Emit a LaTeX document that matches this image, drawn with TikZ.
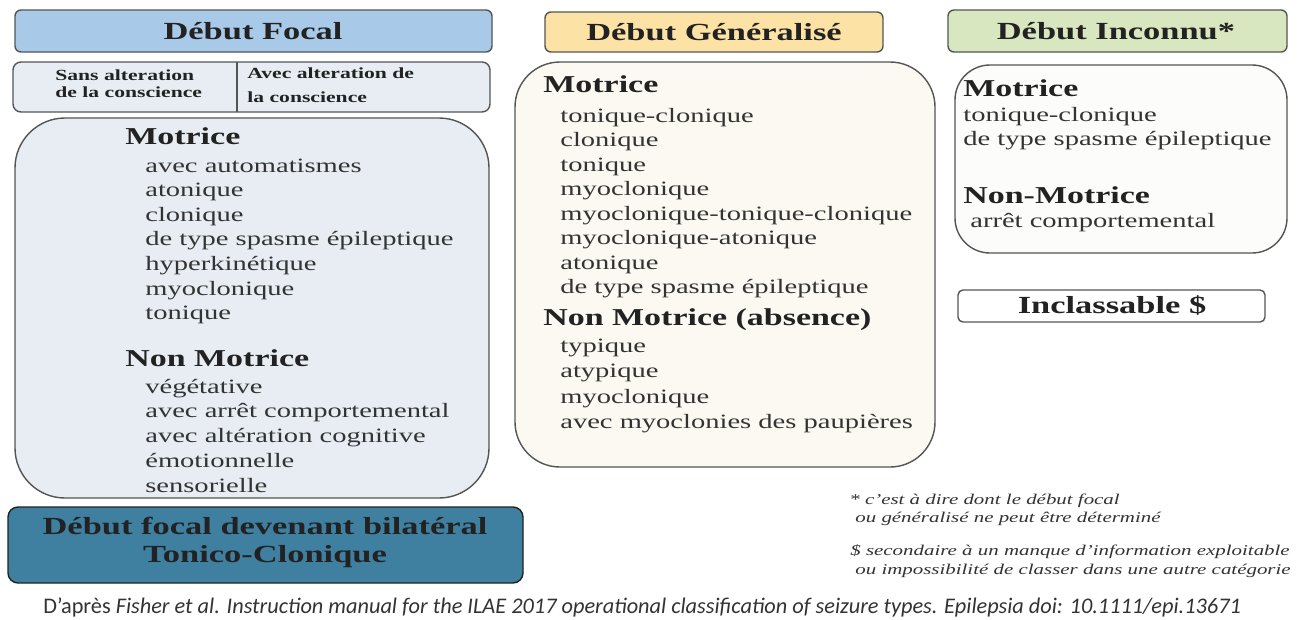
\documentclass[tikz,border=0pt]{standalone}
\usepackage{fontspec}
\setmainfont{Liberation Serif}[FakeStretch=1.4]
\newfontfamily\reffont{Carlito}
\definecolor{boxline}{HTML}{555555}
\definecolor{ink}{HTML}{222222}
\definecolor{ink2}{HTML}{333333}
\definecolor{focalhead}{HTML}{A8C9E7}
\definecolor{focalfill}{HTML}{E7EDF3}
\definecolor{focaldark}{HTML}{3F80A1}
\definecolor{genhead}{HTML}{FDE2A6}
\definecolor{genfill}{HTML}{FBF9F1}
\definecolor{unkhead}{HTML}{D8E7C0}
\definecolor{unkfill}{HTML}{FCFCFA}

\begin{document}
\begin{tikzpicture}[x=0.02cm, y=-0.02cm, line join=round,
    box/.style={draw=boxline, line width=0.8pt},
    head/.style={font=\fontsize{14}{16}\selectfont\bfseries, text=ink},
    sub/.style={font=\fontsize{13.8}{16}\selectfont\bfseries, text=ink, anchor=base west, inner sep=0pt},
    item/.style={font=\fontsize{11.6}{14}\selectfont, text=ink2, anchor=base west, inner sep=0pt},
    tiny/.style={font=\fontsize{8.8}{10}\selectfont\bfseries, text=ink, anchor=base west, inner sep=0pt},
    note/.style={font=\fontsize{8.5}{10}\selectfont\itshape, text=ink2, anchor=base west, inner sep=0pt}]
    \fill[white] (0,0) rectangle (1297,619);
    \useasboundingbox (0,0) rectangle (1297,619);

    % focal onset
    \draw[box, fill=focalhead, rounded corners=0.12cm] (15,10) rectangle (492,52);
    \node[head] (focal) at (253,31) {Début Focal};
    \draw[box, fill=focalfill, rounded corners=0.16cm] (13,62) rectangle (490,112);
    \draw[boxline, line width=0.9pt] (237,62) -- (237,112);
    \node[tiny] (sans1) at (55,80) {Sans alteration};
    \node[tiny] (sans2) at (55,97) {de la conscience};
    \node[tiny] (avec1) at (247,78) {Avec alteration de};
    \node[tiny] (avec2) at (247,102) {la conscience};
    \draw[box, fill=focalfill, rounded corners=1cm] (15,118) rectangle (489,498);
    \node[sub] (fmot) at (125,144) {Motrice};
    \foreach \t [count=\i from 0] in {avec automatismes, atonique, clonique,
        de type spasme épileptique, hyperkinétique, myoclonique, tonique}
        \node[item] (fm\i) at (145,{172+24.6*\i}) {\t};
    \node[sub] (fnon) at (125,366) {Non Motrice};
    \foreach \t [count=\i from 0] in {végétative, avec arrêt comportemental,
        avec altération cognitive, émotionnelle, sensorielle}
        \node[item] (fn\i) at (145,{393+24.75*\i}) {\t};
    \draw[draw=ink, line width=0.8pt, fill=focaldark, rounded corners=0.2cm] (8,507) rectangle (523,583);
    \node[head, anchor=base] (bilat1) at (265,534) {Début focal devenant bilatéral};
    \node[head, anchor=base] (bilat2) at (265,562) {Tonico-Clonique};

    % generalized onset
    \draw[box, fill=genhead, rounded corners=0.12cm] (545,12) rectangle (883,52);
    \node[head] (gen) at (714,32) {Début Généralisé};
    \draw[box, fill=genfill, rounded corners=0.9cm] (515,62) rectangle (935,467);
    \node[sub] (gmot) at (543,92) {Motrice};
    \foreach \t [count=\i from 0] in {tonique-clonique, clonique, tonique, myoclonique,
        myoclonique-tonique-clonique, myoclonique-atonique, atonique, de type spasme épileptique}
        \node[item] (gm\i) at (560,{122+24.5*\i}) {\t};
    \node[sub] (gnon) at (543,325) {Non Motrice (absence)};
    \foreach \t [count=\i from 0] in {typique, atypique, myoclonique, avec myoclonies des paupières}
        \node[item] (gn\i) at (560,{352+25.5*\i}) {\t};

    % unknown onset
    \draw[box, fill=unkhead, rounded corners=0.12cm] (948,10) rectangle (1287,52);
    \node[head] (unk) at (1116,31) {Début Inconnu*};
    \draw[box, fill=unkfill, rounded corners=0.7cm] (955,65) rectangle (1287,253);
    \node[sub] (umot) at (963,96) {Motrice};
    \node[item] (um0) at (963,121) {tonique-clonique};
    \node[item] (um1) at (963,145) {de type spasme épileptique};
    \node[sub] (unon) at (963,203) {Non-Motrice};
    \node[item] (un0) at (970,227) {arrêt comportemental};
    \draw[box, fill=white, rounded corners=0.1cm] (958,290) rectangle (1265,322);
    \node[head] (incl) at (1112,306) {Inclassable \$};

    % notes
    \node[note] (n1) at (849,504) {* c'est à dire dont le début focal};
    \node[note] (n2) at (855,522) {ou généralisé ne peut être déterminé};
    \node[note] (n3) at (850,555) {\$ secondaire à un manque d'information exploitable};
    \node[note] (n4) at (855,574) {ou impossibilité de classer dans une autre catégorie};
    \node[anchor=base west, inner sep=0pt, text=ink2, font=\reffont\fontsize{12.7}{14}\selectfont] (ref) at (43,613)
        {D’après \textit{Fisher et al. Instruction manual for the ILAE 2017 operational classification of seizure types. Epilepsia doi: 10.1111/epi.13671}};
\end{tikzpicture}
\end{document}
